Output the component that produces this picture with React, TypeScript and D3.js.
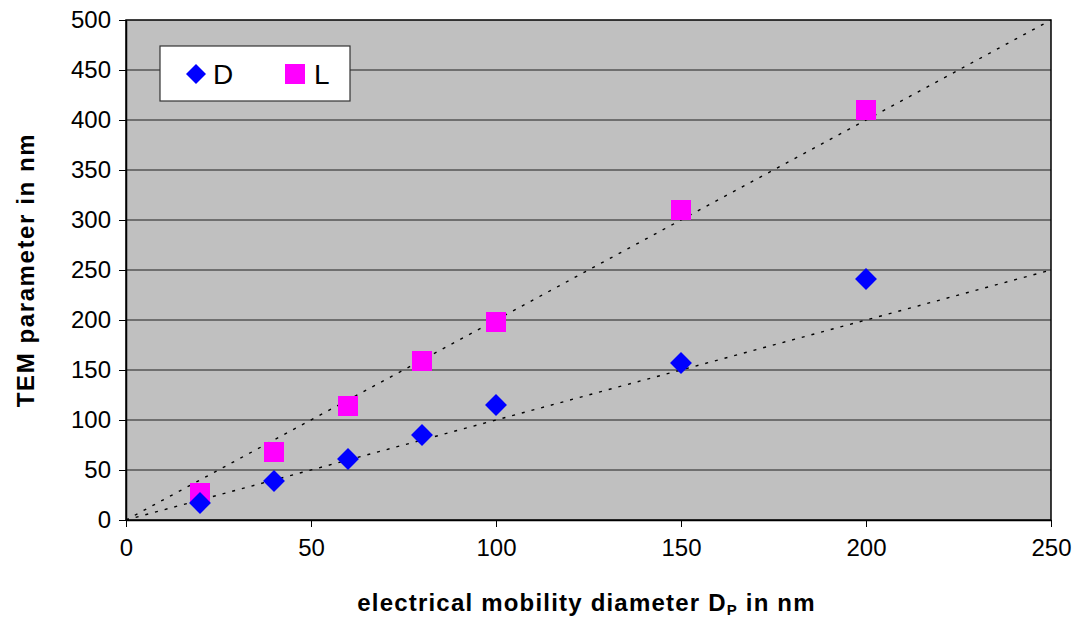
import { useEffect, useRef } from 'react';
import * as d3 from 'd3';

const diameters = [20, 40, 60, 80, 100, 150, 200];
const dValues = [17, 39, 61, 85, 115, 157, 241];
const lValues = [27, 68, 114, 159, 198, 310, 410];
// reference lines: y = slope * x
const fitSlopes = [1, 2];
const xTicks = [0, 50, 100, 150, 200, 250];
const yTicks = [0, 50, 100, 150, 200, 250, 300, 350, 400, 450, 500];

export default function App() {
  const svgRef = useRef<SVGSVGElement>(null);

  useEffect(() => {
    const margin = { top: 20, right: 28, bottom: 99, left: 126 };
    const W = 1079;
    const H = 619;
    const width = W - margin.left - margin.right;
    const height = H - margin.top - margin.bottom;
    const font = '"Liberation Sans", Arial, sans-serif';

    d3.select(svgRef.current).selectAll('*').remove();

    const svg = d3.select(svgRef.current)
      .attr('width', W)
      .attr('height', H)
      .style('font-family', font);

    svg.append('rect').attr('width', W).attr('height', H).attr('fill', '#fff');

    const g = svg.append('g').attr('transform', `translate(${margin.left},${margin.top})`);

    const x = d3.scaleLinear().domain([0, 250]).range([0, width]);
    const y = d3.scaleLinear().domain([0, 500]).range([height, 0]);

    // Plot background
    g.append('rect')
      .attr('width', width)
      .attr('height', height)
      .attr('fill', '#c0c0c0');

    // Gridlines
    g.selectAll('.grid')
      .data(yTicks.filter(t => t > 0 && t < 500))
      .join('line')
      .attr('x1', 0)
      .attr('x2', width)
      .attr('y1', d => y(d))
      .attr('y2', d => y(d))
      .attr('stroke', '#555')
      .attr('stroke-width', 1.3);

    // Reference lines
    const line = d3.line<[number, number]>().x(d => x(d[0])).y(d => y(d[1]));
    fitSlopes.forEach(s => {
      g.append('path')
        .datum([[0, 0], [250, 250 * s]] as [number, number][])
        .attr('fill', 'none')
        .attr('stroke', '#000')
        .attr('stroke-width', 1.4)
        .attr('stroke-dasharray', '3,7')
        .attr('d', line);
    });

    // Plot border
    g.append('rect')
      .attr('width', width)
      .attr('height', height)
      .attr('fill', 'none')
      .attr('stroke', '#000')
      .attr('stroke-width', 1.5);

    // L points (squares)
    const sq = 20;
    g.selectAll('.lpt')
      .data(diameters.map((d, i) => [d, lValues[i]]))
      .join('rect')
      .attr('x', d => x(d[0]) - sq / 2)
      .attr('y', d => y(d[1]) - sq / 2)
      .attr('width', sq)
      .attr('height', sq)
      .attr('fill', '#ff00ff');

    // D points (diamonds)
    const diamond = d3.symbol().type(d3.symbolSquare).size(240);
    g.selectAll('.dpt')
      .data(diameters.map((d, i) => [d, dValues[i]]))
      .join('path')
      .attr('d', diamond)
      .attr('transform', d => `translate(${x(d[0])},${y(d[1])}) rotate(45)`)
      .attr('fill', '#0000ff');

    // X axis
    const xAxis = g.append('g')
      .attr('transform', `translate(0,${height})`)
      .call(d3.axisBottom(x).tickValues(xTicks).tickSize(7).tickPadding(12).tickSizeOuter(0));
    xAxis.select('.domain').attr('stroke-width', 1.5);
    xAxis.selectAll('text').style('font-size', '24px').style('font-family', font).attr('fill', '#000');

    // Y axis
    const yAxis = g.append('g')
      .call(d3.axisLeft(y).tickValues(yTicks).tickSize(7).tickPadding(8).tickSizeOuter(0));
    yAxis.select('.domain').attr('stroke-width', 1.5);
    yAxis.selectAll('text').style('font-size', '24px').style('font-family', font).attr('fill', '#000');

    // X title
    const xt = svg.append('text')
      .attr('x', margin.left + width / 2 - 2)
      .attr('y', 611)
      .attr('text-anchor', 'middle')
      .style('font-size', '24px')
      .style('letter-spacing', '1.2px')
      .style('font-weight', 'bold');
    xt.append('tspan').text('electrical mobility diameter D');
    xt.append('tspan').attr('dy', 4).style('font-size', '15px').text('P');
    xt.append('tspan').attr('dy', -4).text(' in nm');

    // Y title
    svg.append('text')
      .attr('transform', `translate(34,${margin.top + height / 2}) rotate(-90)`)
      .attr('text-anchor', 'middle')
      .style('font-size', '24px')
      .style('letter-spacing', '1.6px')
      .style('font-weight', 'bold')
      .text('TEM parameter in nm');

    // Legend
    const lg = svg.append('g').attr('transform', 'translate(160,46)');
    lg.append('rect')
      .attr('width', 190)
      .attr('height', 55)
      .attr('fill', '#fff')
      .attr('stroke', '#333')
      .attr('stroke-width', 1.2);
    lg.append('path')
      .attr('d', d3.symbol().type(d3.symbolSquare).size(200))
      .attr('transform', 'translate(36,28) rotate(45)')
      .attr('fill', '#0000ff');
    lg.append('text').attr('x', 53).attr('y', 38).style('font-size', '28px').text('D');
    lg.append('rect').attr('x', 125).attr('y', 18).attr('width', 20).attr('height', 20).attr('fill', '#ff00ff');
    lg.append('text').attr('x', 154).attr('y', 38).style('font-size', '28px').text('L');
  }, []);

  return <svg ref={svgRef} style={{ position: 'absolute', left: 0, top: 0 }}></svg>;
}
